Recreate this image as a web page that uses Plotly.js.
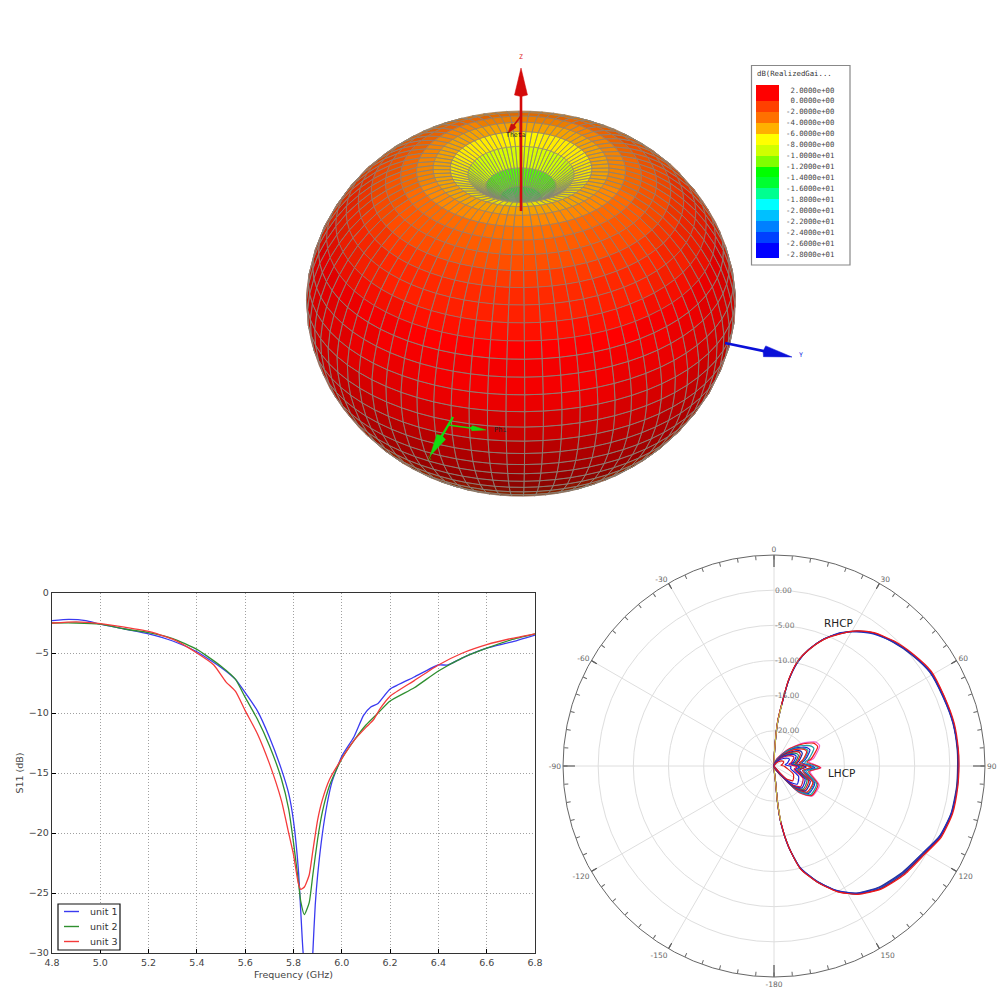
<!DOCTYPE html>
<html><head><meta charset="utf-8">
<script src="https://cdn.plot.ly/plotly-3.0.1.min.js"></script>
<style>html,body{margin:0;padding:0;background:#fff}#g{width:1000px;height:1000px}</style></head>
<body><div id="g"></div>
<script>
// ---- S11 data
const f1=[4.8,4.87,4.94,5.0,5.1,5.2,5.3,5.4,5.5,5.56,5.6,5.65,5.7,5.75,5.78,5.8,5.82,5.83,5.84,5.86,5.875,5.88,5.89,5.9,5.92,5.94,5.96,6.0,6.05,6.09,6.12,6.15,6.2,6.3,6.4,6.44,6.5,6.6,6.7,6.8];
const unit1=[-2.3,-2.2,-2.3,-2.6,-3.0,-3.4,-4.0,-4.9,-6.2,-7.2,-8.3,-9.8,-12.0,-14.7,-16.7,-19,-23,-26.5,-30,-33,-33,-30,-26,-23.5,-20,-17.5,-15.7,-13.6,-12,-10.2,-9.5,-9.2,-8,-7,-6,-6,-5.4,-4.6,-4.1,-3.5];
const f2=[4.8,4.9,5.0,5.1,5.2,5.3,5.4,5.5,5.56,5.6,5.65,5.7,5.75,5.78,5.8,5.82,5.83,5.845,5.865,5.88,5.9,5.92,5.95,6.0,6.05,6.1,6.15,6.2,6.3,6.4,6.5,6.6,6.7,6.8];
const unit2=[-2.5,-2.5,-2.6,-3,-3.3,-3.8,-4.7,-6.1,-7.2,-8.7,-10.5,-12.7,-15.5,-18,-20.8,-24,-25.7,-26.8,-25.8,-23.5,-20.5,-18.2,-16,-13.8,-12.3,-11,-10,-9,-7.9,-6.5,-5.4,-4.6,-3.9,-3.4];
const f3=[4.8,4.9,5.0,5.1,5.2,5.3,5.4,5.47,5.52,5.56,5.6,5.65,5.7,5.75,5.78,5.8,5.82,5.83,5.845,5.865,5.88,5.9,5.92,5.95,6.0,6.05,6.1,6.13,6.16,6.2,6.3,6.4,6.5,6.6,6.7,6.8];
const unit3=[-2.5,-2.4,-2.55,-2.85,-3.2,-3.85,-5,-6,-7.4,-8.2,-9.8,-11.7,-14.2,-17.3,-20,-21.8,-24.2,-24.7,-24.5,-23.5,-21.5,-18.9,-17.2,-15.5,-13.8,-12.3,-11.2,-10.6,-9.6,-8.6,-7.3,-6,-5,-4.3,-3.8,-3.4];
const legendNames=['unit 1','unit 2','unit 3'];
const unitColors=['#3a3af0','#2f8f2f','#f53a3a'];

// ---- polar data
const rhcpAngle=[0,2,4.7,7.3,9.7,12.8,16.6,21.4,26.6,31.6,36.9,43.9,51.5,58.9,67.8,76.6,85,90,96.4,104.9,113,120.3,129.6,139,147,153.3,159.6,165.6,169.7,173,174.4,174.5,176,180];
const rhcpA=[-25,-23,-18.7,-16,-12.6,-9.8,-7.8,-5.66,-3.9,-2.5,-1.4,-0.45,0.35,1.0,1.07,1.26,1.2,1.16,1.18,1.19,0.69,-0.36,-1.07,-1.97,-3.3,-5.1,-7.46,-10,-13.3,-16.8,-19.7,-23,-24,-25];
const rhcpB=[-25,-23.2,-18.9,-16.1,-12.7,-9.9,-7.7,-5.6,-3.8,-2.6,-1.5,-0.55,0.28,0.9,1.0,1.2,1.28,1.25,1.24,1.1,0.6,-0.45,-1.2,-2.1,-3.4,-5.2,-7.5,-10.1,-13.2,-16.7,-19.6,-23.1,-24,-25];
const rhcpC=[-25,-22.9,-18.6,-15.9,-12.5,-9.7,-7.8,-5.7,-4.0,-2.45,-1.3,-0.35,0.42,1.1,1.16,1.34,1.32,1.3,1.3,1.28,0.85,-0.15,-0.85,-1.8,-3.25,-5.0,-7.4,-9.9,-13.3,-16.8,-19.8,-22.9,-24,-25];
const rhcpD=[-25,-23.1,-18.8,-16.05,-12.65,-9.85,-7.75,-5.62,-3.95,-2.55,-1.45,-0.6,0.2,0.85,0.95,1.15,1.15,1.1,1.12,1.05,0.55,-0.5,-1.3,-2.2,-3.45,-5.15,-7.55,-10.05,-13.35,-16.85,-19.7,-23,-24,-25];
const rhcpE=[-25,-23,-18.75,-15.95,-12.55,-9.75,-7.72,-5.64,-3.85,-2.5,-1.35,-0.5,0.32,0.95,1.12,1.22,1.24,1.2,1.2,1.16,0.72,-0.3,-1.0,-1.9,-3.28,-5.05,-7.42,-9.95,-13.25,-16.75,-19.65,-22.95,-24,-25];
const oliveAngle=[0,2,4.7,7.3];
const rhcpOlive=[-25,-23.05,-18.85,-16.2];
const oliveAngle2=[180,176,174.5,174.4,173];
const rhcpOlive2=[-25,-24,-23.05,-19.8,-16.9];

const lhcpAngle=[0,20,39,51,60,66,79,83,92,99,113,128,136,140,160,180];
const lhcp1=[-25,-24,-22.06,-19.88,-18.18,-17.9,-19.26,-20,-18.3,-19.8,-18,-18.1,-19.6,-22.1,-24.6,-25];
const lhcp2=[-25,-24.1,-22.2,-20.1,-18.5,-18.2,-19.6,-20.3,-18.4,-20,-18.2,-18.2,-19.7,-22.2,-24.6,-25];
const lhcp3=[-25,-24.2,-22.4,-20.5,-19.2,-18.8,-20,-20.6,-18.7,-20.3,-18.4,-18.4,-19.9,-22.3,-24.7,-25];
const lhcp4=[-25,-24.3,-22.6,-20.9,-19.7,-19.4,-20.5,-21,-19.2,-20.6,-18.7,-18.7,-20.2,-22.4,-24.7,-25];
const lhcp5=[-25,-24.4,-22.9,-21.3,-20.2,-19.9,-20.9,-21.4,-19.7,-20.9,-19,-19,-20.4,-22.6,-24.8,-25];
const lhcp6=[-25,-24.5,-23.1,-21.8,-20.7,-20.6,-21.4,-21.8,-20.4,-21.3,-19.4,-19.3,-20.7,-22.8,-24.8,-25];
const lhcp7=[-25,-24.6,-23.4,-22.3,-21.4,-21.2,-21.9,-22.3,-21,-21.7,-19.9,-19.7,-21,-23,-24.8,-25];
const lhcp8=[-25,-24.7,-23.7,-22.8,-22.1,-21.9,-22.5,-22.9,-21.7,-22.1,-20.5,-20.2,-21.4,-23.2,-24.9,-25];
const lhcp9=[-25,-24.8,-24,-23.3,-22.8,-22.6,-23.1,-23.4,-22.6,-22.6,-21.2,-20.8,-21.9,-23.5,-24.9,-25];
const lhcp10=[-25,-24.9,-24.4,-23.9,-23.6,-23.5,-23.8,-24,-23.5,-23.2,-22,-21.6,-22.5,-23.9,-24.9,-25];
const lhcp11=[-25,-24.35,-22.75,-21.1,-20,-19.7,-20.7,-21.2,-19.5,-20.75,-18.85,-18.85,-20.3,-22.5,-24.75,-25];
const lhcp12=[-25,-24.55,-23.25,-22,-21,-20.9,-21.65,-22,-20.7,-21.5,-19.65,-19.5,-20.85,-22.9,-24.8,-25];
const lhcp13=[-25,-24.65,-23.55,-22.55,-21.75,-21.55,-22.2,-22.6,-21.35,-21.9,-20.2,-19.95,-21.2,-23.1,-24.85,-25];
const radialTicks=[0,-5,-10,-15,-20];
const radialText=['0.00','-5.00','-10.00','-15.00','-20.00'];
const spokeAngles=[0,30,60,90,120,150,180,210,240,270,300,330];
const spokeLabels=['0','30','60','90','120','150','-180','-150','-120','-90','-60','-30'];
const longTickAngles=[0,90,180,270];

// ---- 3D pattern data: realized gain (dB) every 5 degrees of theta
const gainDb=[-16,-15,-13,-10.5,-7.5,-5.5,-4.2,-3.2,-2.4,-1.7,-1.1,-0.6,-0.1,0.3,0.7,1.1,1.4,1.7,1.9,1.9,1.8,1.6,1.4,1.1,0.8,0.5,0.2,-0.1,-0.4,-0.7,-0.95,-1.15,-1.35,-1.5,-1.6,-1.7,-1.7];
const barLabels=['\u00A02.0000e+00','\u00A00.0000e+00','-2.0000e+00','-4.0000e+00','-6.0000e+00','-8.0000e+00','-1.0000e+01','-1.2000e+01','-1.4000e+01','-1.6000e+01','-1.8000e+01','-2.0000e+01','-2.2000e+01','-2.4000e+01','-2.6000e+01','-2.8000e+01'];
const barValues=[2,0,-2,-4,-6,-8,-10,-12,-14,-16,-18,-20,-22,-24,-26,-28];
const barEdges=[-28.73,-26,-24,-22,-20,-18,-16,-14,-12,-10,-8,-6,-4,-2,0,2.91];
const barCenters=[[-27],[-25],[-23],[-21],[-19],[-17],[-15],[-13],[-11],[-9],[-7],[-5],[-3],[-1],[1]];
const barColors=['#0000ff','#0040ff','#0080ff','#00c0ff','#00ffff','#00ff90','#00ff30','#00ff00','#80ff00','#d0ff00','#ffff00','#ffb000','#ff7000','#ff4000','#ff0000'];

// ---- pattern geometry and view
const K=32, PX=6.33, CX=521, CY=298, EL=32*Math.PI/180, AZ=19*Math.PI/180, D5=5*Math.PI/180, PHI_STEPS=72;
const eye=[Math.cos(EL)*Math.cos(AZ),Math.cos(EL)*Math.sin(AZ),Math.sin(EL)];
const right=[-Math.sin(AZ),Math.cos(AZ),0];
const up=[-Math.sin(EL)*Math.cos(AZ),-Math.sin(EL)*Math.sin(AZ),Math.cos(EL)];
const dot=(a,b)=>a[0]*b[0]+a[1]*b[1]+a[2]*b[2];
const sub=(a,b)=>[a[0]-b[0],a[1]-b[1],a[2]-b[2]];
const cross=(a,b)=>[a[1]*b[2]-a[2]*b[1],a[2]*b[0]-a[0]*b[2],a[0]*b[1]-a[1]*b[0]];
const norm=a=>{const l=Math.sqrt(dot(a,a))||1;return [a[0]/l,a[1]/l,a[2]/l];};
const light=norm([eye[0]+up[0]*.35,eye[1]+up[1]*.35,eye[2]+up[2]*.35]);
const P=(i,j)=>{const t=i*D5,p=j*D5,r=gainDb[i]+K;return [r*Math.sin(t)*Math.cos(p),r*Math.sin(t)*Math.sin(p),r*Math.cos(t)];};
const sx=v=>CX+PX*dot(v,right), sy=v=>CY-PX*dot(v,up);
const hex=c=>[parseInt(c.slice(1,3),16),parseInt(c.slice(3,5),16),parseInt(c.slice(5,7),16)];
const rgbBands=barColors.map(hex);
function gainColor(g,shade){const pos=Math.max(0,Math.min(14,(g+28)/2-.5)),a=Math.floor(pos),b=Math.min(14,a+1),f=pos-a;
  const c=[0,1,2].map(k=>Math.round(Math.min(255,(rgbBands[a][k]*(1-f)+rgbBands[b][k]*f)*shade)));return 'rgb('+c.join(',')+')';}

const traces=[];
traces.push({type:'heatmap',xaxis:'x3',yaxis:'y3',x:[0,1],y:barEdges,z:barCenters,zmin:-28,zmax:2,showscale:false,hoverinfo:'skip',
  colorscale:barColors.flatMap((c,i)=>[[i/15,c],[(i+1)/15,c]])});

function emit(groups,lines){
  Object.keys(groups).forEach(k=>traces.push({type:'scatter',xaxis:'x2',yaxis:'y2',mode:'lines',x:groups[k].x,y:groups[k].y,fill:'toself',fillcolor:k,line:{width:.4,color:k},hoverinfo:'skip',showlegend:false}));
  traces.push({type:'scatter',xaxis:'x2',yaxis:'y2',mode:'lines',x:lines.x,y:lines.y,line:{width:.7,color:'#8a8278'},hoverinfo:'skip',showlegend:false});
}
let groups={},lines={x:[],y:[]};
for(let i=0;i<gainDb.length-1;i++){
  for(let j=0;j<PHI_STEPS;j++){
    const a=P(i,j),b=P(i+1,j),c=P(i+1,j+1),d=P(i,j+1);
    const m=i===0?cross(sub(b,a),sub(c,a)):cross(sub(b,a),sub(d,a));
    const n=norm(m);const facing=dot(n,eye);
    if(facing<=0)continue;
    const g0=(gainDb[i]+gainDb[i+1])/2;
    const down=Math.max(0,-dot(n,up));
    const shadeRaw=.74+.3*Math.max(0,dot(n,light))-.22*down*down;
    const shade=Math.round(shadeRaw*25)/25;
    const g=Math.round((g0-(facing<.25?2.6*(1-facing/.25):0))*4)/4;
    const key=gainColor(g,shade);
    const gr=groups[key]||(groups[key]={x:[],y:[]});
    [a,b,c,d,a].forEach(v=>{gr.x.push(sx(v));gr.y.push(sy(v));});gr.x.push(null);gr.y.push(null);
    [a,b,c,d,a].forEach(v=>{lines.x.push(sx(v));lines.y.push(sy(v));});lines.x.push(null);lines.y.push(null);
  }
  if(i<14){emit(groups,lines);groups={};lines={x:[],y:[]};}
}
emit(groups,lines);

function arrow(x0,y0,x1,y1,col,w,hl,hw){
  const L=Math.hypot(x1-x0,y1-y0),ux=(x1-x0)/L,uy=(y1-y0)/L,bx=x1-ux*hl,by=y1-uy*hl,nx=-uy*hw/2,ny=ux*hw/2;
  traces.push({type:'scatter',xaxis:'x2',yaxis:'y2',mode:'lines',x:[x0,bx],y:[y0,by],line:{color:col,width:w},hoverinfo:'skip',showlegend:false});
  traces.push({type:'scatter',xaxis:'x2',yaxis:'y2',mode:'lines',x:[bx+nx,x1,bx-nx,bx-ux*1.5,bx+nx],y:[by+ny,y1,by-ny,by-uy*1.5,by+ny],fill:'toself',fillcolor:col,line:{color:col,width:.5},hoverinfo:'skip',showlegend:false});
}
arrow(521,211,521,68,'#d40a0a',2.6,27,13);
arrow(725,343,792,357,'#0a10d8',2.6,28,11);
arrow(453,417,430,456,'#12dc12',2.4,22,10);
arrow(448,425,486,430,'#12dc12',1.6,14,5);
arrow(521,116,508,133,'#c80e0e',1.6,9,6);

// S11
traces.push({type:'scatter',x:f1,y:unit1,name:'unit 1',mode:'lines',line:{color:unitColors[0],width:1.3,shape:'spline',smoothing:.5},showlegend:false});
traces.push({type:'scatter',x:f2,y:unit2,name:'unit 2',mode:'lines',line:{color:unitColors[1],width:1.3,shape:'spline',smoothing:.5},showlegend:false});
traces.push({type:'scatter',x:f3,y:unit3,name:'unit 3',mode:'lines',line:{color:unitColors[2],width:1.3,shape:'spline',smoothing:.5},showlegend:false});

// polar
const sr=[],st=[];spokeAngles.forEach(a=>{sr.push(-25,5,null);st.push(a,a,null);});
traces.push({type:'scatterpolar',subplot:'polar',r:sr,theta:st,mode:'lines',line:{color:'#dedede',width:1},hoverinfo:'skip',showlegend:false});
const tr=[],tt=[];spokeAngles.forEach(a=>{tr.push(longTickAngles.includes(a)?3.3:4.1,5,null);tt.push(a,a,null);});
traces.push({type:'scatterpolar',subplot:'polar',r:tr,theta:tt,mode:'lines',line:{color:'#444',width:1.1},hoverinfo:'skip',showlegend:false});
const addP=(r,th,c,w)=>traces.push({type:'scatterpolar',subplot:'polar',r:r,theta:th,mode:'lines',line:{color:c,width:w,shape:'spline',smoothing:.6},hoverinfo:'skip',showlegend:false});
addP(rhcpA,rhcpAngle,'#20a0a0',1.2);addP(rhcpD,rhcpAngle,'#2a3a90',1.2);addP(rhcpE,rhcpAngle,'#801050',1.2);addP(rhcpB,rhcpAngle,'#2030c0',1.2);addP(rhcpC,rhcpAngle,'#f01818',1.2);
addP(rhcpOlive,oliveAngle,'#c8c850',1.1);addP(rhcpOlive2,oliveAngle2,'#c8c850',1.1);
[[lhcp1,'#f060d0'],[lhcp2,'#f01818'],[lhcp3,'#20a0a0'],[lhcp4,'#1820d8'],[lhcp11,'#20a0a0'],[lhcp5,'#f01818'],[lhcp6,'#1820a0'],[lhcp12,'#e01818'],[lhcp7,'#208060'],[lhcp13,'#1820d8'],[lhcp8,'#d01040'],[lhcp9,'#1820d8'],[lhcp10,'#e01818']].forEach(a=>addP(a[0],lhcpAngle,a[1],1.2));

const tv=[],tx=[];for(let a=0;a<360;a+=5){tv.push(a);const i=spokeAngles.indexOf(a);tx.push(i>=0?spokeLabels[i]:'');}
const W=1000;
const lab=(x,y,t,c,s,fam,anchor)=>({xref:'paper',yref:'paper',x:x/W,y:1-y/W,text:t,showarrow:false,xanchor:anchor||'center',yanchor:'middle',xshift:0,font:{color:c,size:s,family:fam||'DejaVu Sans'}});
const legendShapes=[{type:'rect',xref:'paper',yref:'paper',x0:58/W,x1:120/W,y0:1-950/W,y1:1-904/W,line:{color:'#111',width:1.2},fillcolor:'#fff',layer:'above'}];
const legendAnn=[];
legendNames.forEach((n,i)=>{const y=911.5+i*15;
  legendShapes.push({type:'line',xref:'paper',yref:'paper',x0:64/W,x1:79/W,y0:1-y/W,y1:1-y/W,line:{color:unitColors[i],width:1.4},layer:'above'});
  legendAnn.push(lab(88,y,n,'#333',9.5,'DejaVu Sans','left'));});
// radial labels sit just right of the 0-degree spoke; radius 35.2 px per 5 dB around the polar centre
const radialAnn=radialTicks.map((v,i)=>lab(773,766-(v+25)*7.03,radialText[i],'#777',7.5,'DejaVu Sans','left'));
const layout={width:1000,height:1000,margin:{l:0,r:0,t:0,b:0,pad:0},paper_bgcolor:'#fff',plot_bgcolor:'#fff',autosize:false,showlegend:false,
 font:{family:'DejaVu Sans',size:9,color:'#333'},
 xaxis2:{domain:[0,1],anchor:'y2',range:[0,1000],visible:false,fixedrange:true},
 yaxis2:{domain:[.48,1],anchor:'x2',range:[520,0],visible:false,fixedrange:true},
 xaxis3:{domain:[.756,.779],anchor:'y3',range:[0,1],visible:false},
 yaxis3:{domain:[.742,.915],anchor:'x3',side:'right',range:[-28.73,2.91],tickvals:barValues,ticktext:barLabels,ticks:'',showgrid:false,zeroline:false,showline:false,ticklabelstandoff:6,tickfont:{family:'DejaVu Sans Mono',size:7.3,color:'#444'}},
 xaxis:{domain:[.052,.535],anchor:'y',range:[4.8,6.8],dtick:.2,tickformat:'.1f',ticks:'inside',ticklen:4,tickcolor:'#000',showline:true,mirror:true,linecolor:'#333',linewidth:1.2,
   gridcolor:'#888',griddash:'1px,2px',gridwidth:.8,zeroline:false,tickfont:{size:9.5,color:'#444'},title:{text:'Frequency (GHz)',font:{size:9.5,color:'#444'},standoff:4}},
 yaxis:{domain:[.047,.407],anchor:'x',range:[-30,0],dtick:5,ticks:'inside',ticklen:4,tickcolor:'#000',showline:true,mirror:true,linecolor:'#333',linewidth:1.2,
   gridcolor:'#888',griddash:'1px,2px',gridwidth:.8,zeroline:false,tickfont:{size:9.5,color:'#444'},title:{text:'S11 (dB)',font:{size:9.5,color:'#444'},standoff:3}},
 polar:{domain:{x:[.563,.985],y:[.023,.445]},bgcolor:'#fff',
  radialaxis:{range:[-25,5],angle:90,tickvals:radialTicks,showticklabels:false,showline:false,ticks:'',gridcolor:'#dedede'},
  angularaxis:{rotation:90,direction:'clockwise',tickmode:'array',tickvals:tv,ticktext:tx,ticks:'inside',ticklen:4,tickcolor:'#666',linecolor:'#666',linewidth:1,showgrid:false,tickfont:{size:7.5,color:'#666'}}},
 shapes:[{type:'rect',xref:'paper',yref:'paper',x0:751.5/W,x1:850/W,y0:1-265/W,y1:1-65.5/W,line:{color:'#888',width:1.2},fillcolor:'#fff',layer:'below'}].concat(legendShapes),
 annotations:[
  lab(755,74,'dB(RealizedGai...','#333',7.3,'DejaVu Sans Mono','left'),
  lab(521,57,'Z','#e02020',6.5,'DejaVu Sans Mono'),
  lab(801,355,'Y','#2030e0',6.5,'DejaVu Sans Mono'),
  lab(430,457,'X','#10c010',6,'DejaVu Sans Mono'),
  lab(500,430,'Phi','#222',7,'DejaVu Sans Mono'),
  lab(516,135,'Theta','#222',6.5,'DejaVu Sans Mono'),
  lab(838,623,'RHCP','#222',10.5),
  lab(841,773,'LHCP','#222',10.5)
 ].concat(legendAnn,radialAnn)};
Plotly.newPlot('g',traces,layout,{displayModeBar:false,staticPlot:true});
</script></body></html>
